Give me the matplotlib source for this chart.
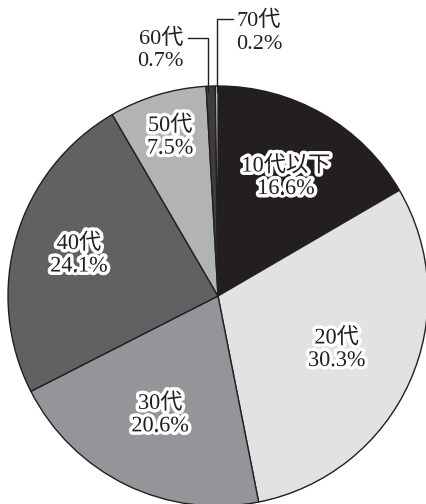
import numpy as np
import matplotlib
matplotlib.use("Agg")
import matplotlib.pyplot as plt
import matplotlib.patheffects as pe

# age groups and their share (%)
groups = ["10代以下", "20代", "30代", "40代", "50代", "60代", "70代"]
shares = [16.6, 30.3, 20.6, 24.1, 7.5, 0.7, 0.2]
colors = ["#231f20", "#e1e2e4", "#949598", "#606163", "#b2b3b5", "#3d3d40", "#e4e4e4"]

# radial position (fraction of radius) of the labels drawn inside
label_r = [0.65, 0.62, 0.63, 0.69, 0.79]

fonts = ["Liberation Serif", "Noto Sans CJK JP", "DejaVu Sans"]

fig = plt.figure(figsize=(4.27, 5.04), dpi=100)
ax = fig.add_axes([0, 0, 1, 1])

wedges, _ = ax.pie(shares, colors=colors, startangle=90, counterclock=False,
                   radius=1.0, center=(0, 0),
                   wedgeprops=dict(edgecolor="#231f20", linewidth=1.0))

halo = [pe.withStroke(linewidth=5, foreground="white")]

for i, r in enumerate(label_r):
    w = wedges[i]
    mid = np.deg2rad((w.theta1 + w.theta2) / 2)
    x, y = r * np.cos(mid), r * np.sin(mid)
    ax.text(x, y, f"{groups[i]}\n{shares[i]:.1f}%", ha="center", va="center",
            fontsize=16, family=fonts, color="#231f20", linespacing=1.25,
            path_effects=halo)

# small slices get labels outside with leader lines
w60 = wedges[5]
m60 = np.deg2rad((w60.theta1 + w60.theta2) / 2)
x60 = np.cos(m60) - 0.015
ax.plot([-0.143, x60, x60], [1.229, 1.229, 0.97], color="#231f20", lw=1.0)
ax.text(-0.165, 1.171, f"{groups[5]}\n{shares[5]:.1f}%", ha="right", va="center",
        fontsize=16, family=fonts, color="#231f20", linespacing=1.25)

w70 = wedges[6]
m70 = np.deg2rad((w70.theta1 + w70.theta2) / 2)
x70 = np.cos(m70)
ax.plot([x70, x70, 0.071], [0.97, 1.319, 1.319], color="#231f20", lw=1.0)
ax.text(0.088, 1.255, f"{groups[6]}\n{shares[6]:.1f}%", ha="left", va="center",
        fontsize=16, family=fonts, color="#231f20", linespacing=1.25)

ax.set_xlim(-218 / 210, (427 - 218) / 210)
ax.set_ylim(-(504 - 296) / 210, 296 / 210)
ax.set_aspect("auto")
ax.axis("off")

fig.savefig("out.png", dpi=100, facecolor="white")
